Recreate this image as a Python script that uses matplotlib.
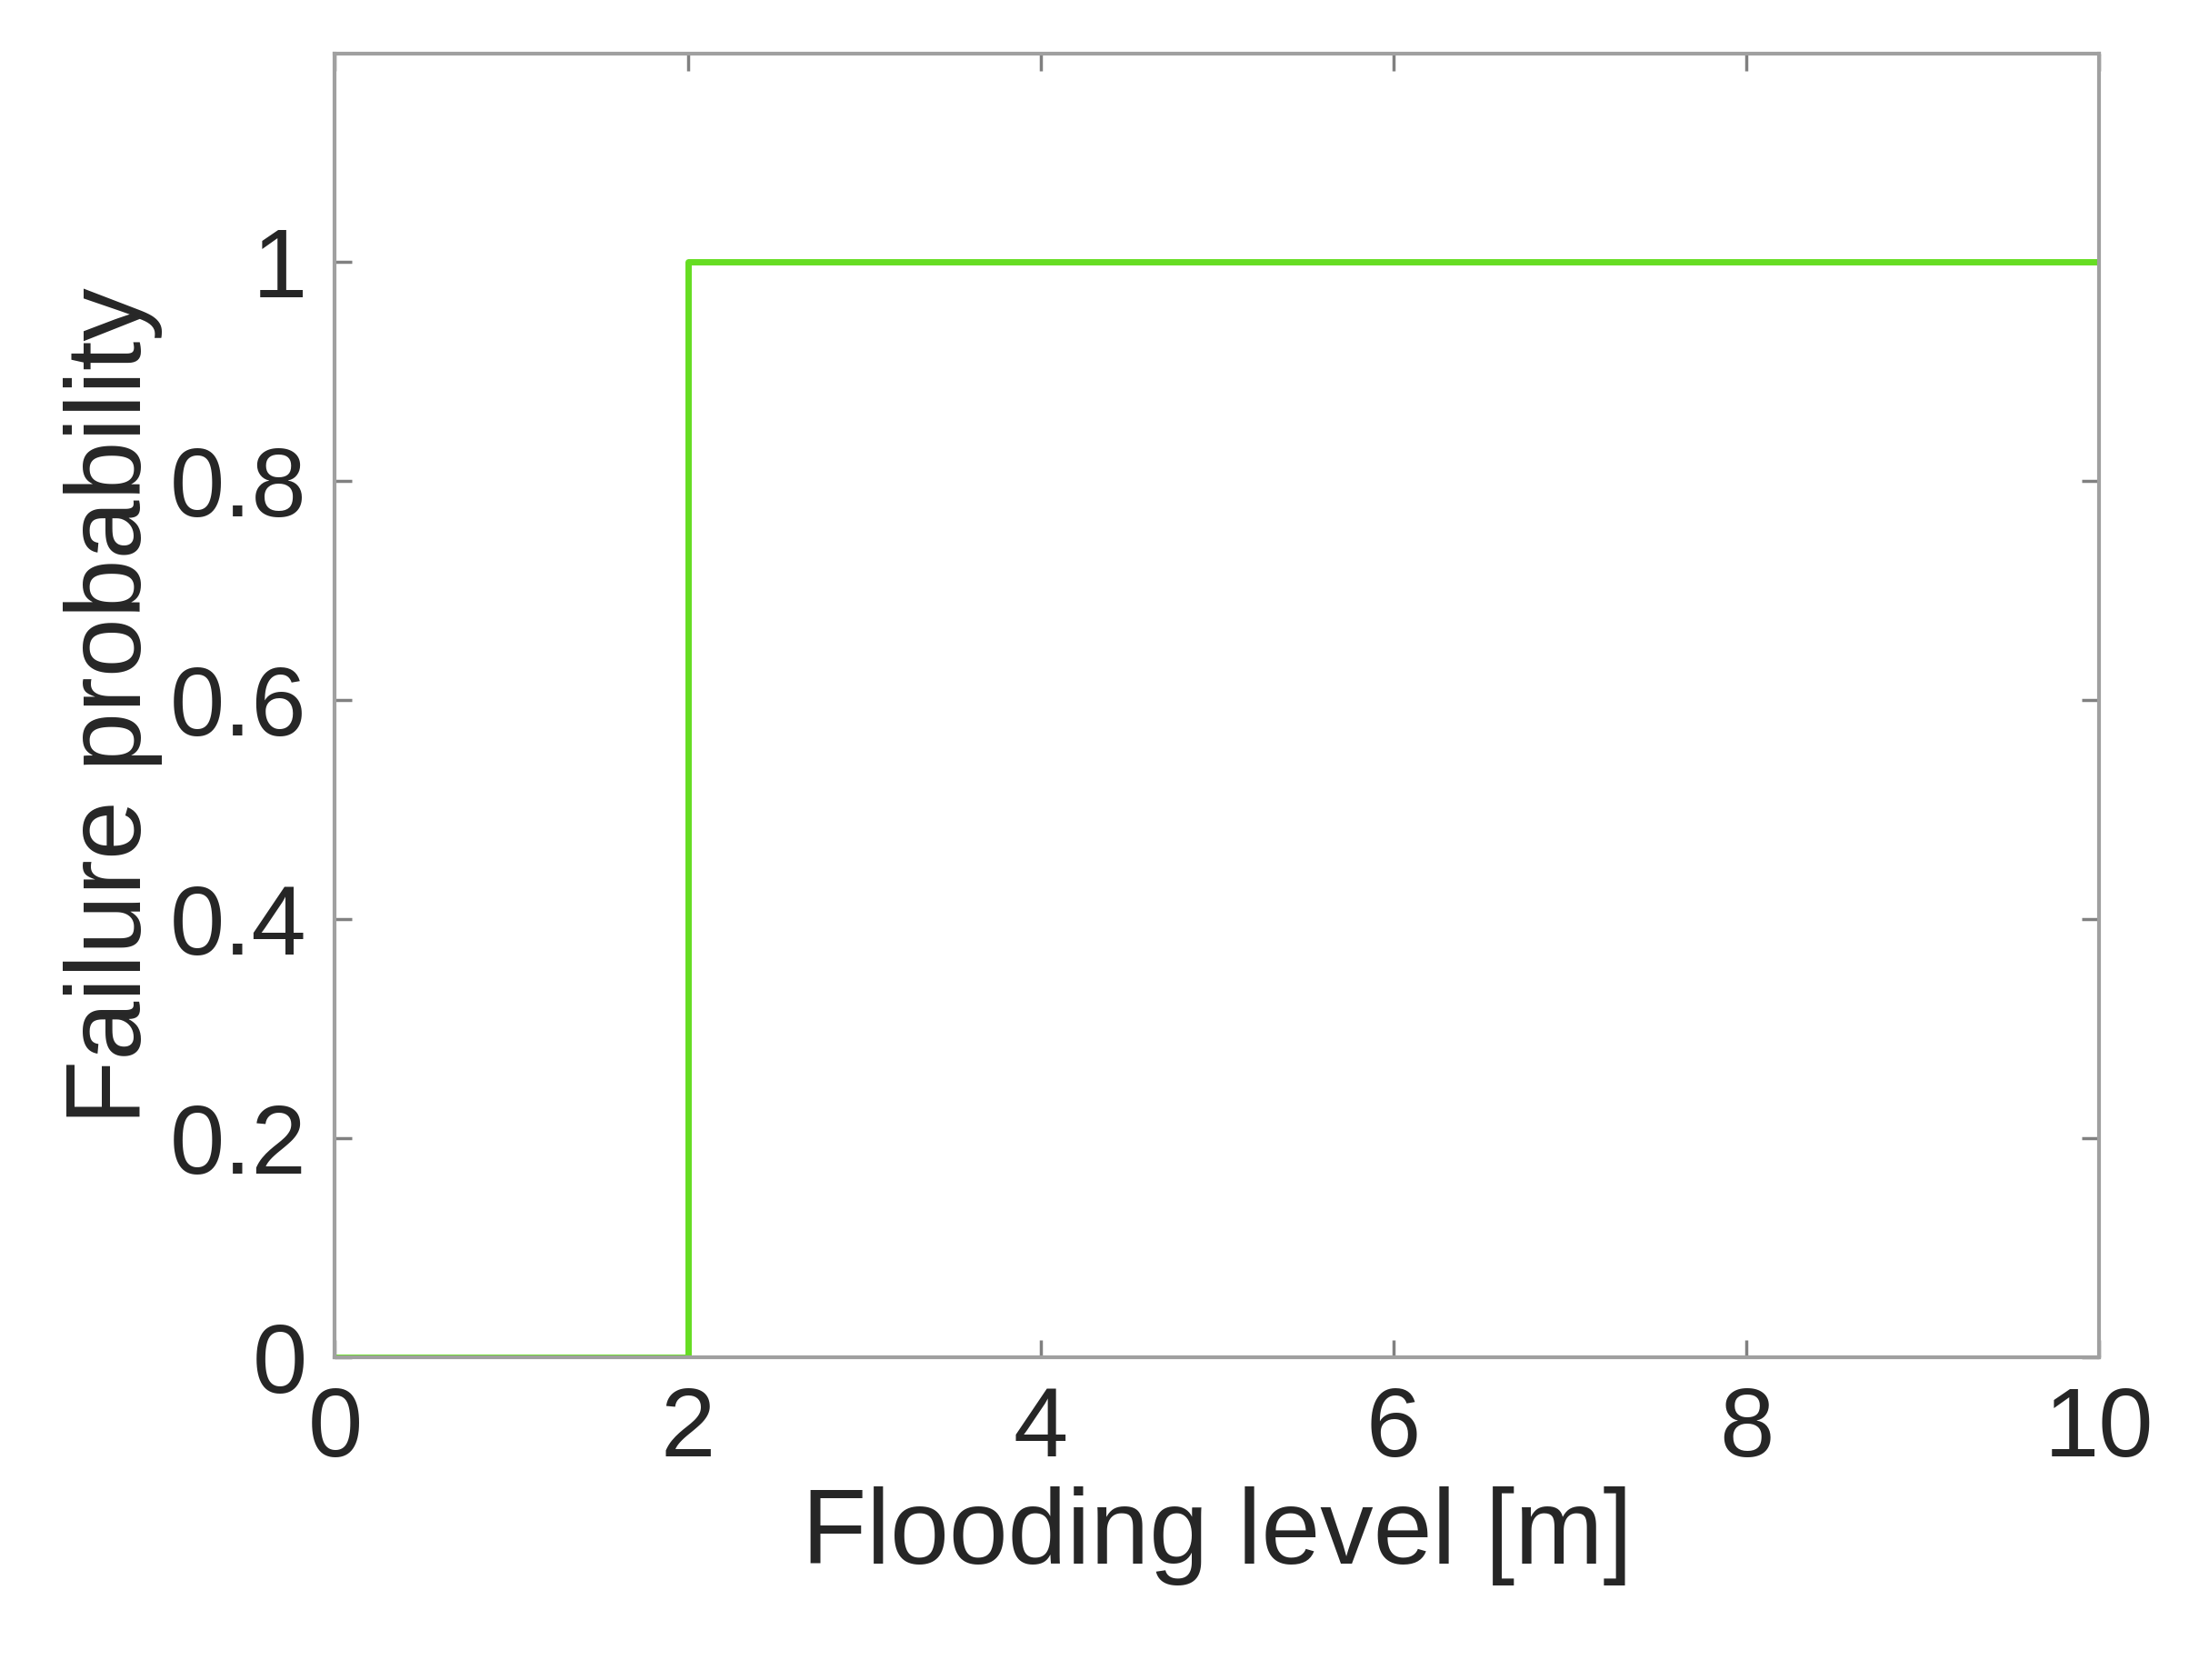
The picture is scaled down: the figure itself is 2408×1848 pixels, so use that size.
import numpy as np
import matplotlib.pyplot as plt

plt.rcParams['font.family'] = ['Liberation Sans', 'DejaVu Sans']

# step curve: failure probability vs flooding level
level = [0, 2, 2, 10]
prob = [0, 0, 1, 1]

fig = plt.figure(figsize=(24.08, 18.48), dpi=100)
ax = fig.add_axes([0.153, 0.192, 0.806, 0.776])
ax.plot(level, prob, color='#66dd22', linewidth=5)

ax.set_xlim(0, 10)
ax.set_ylim(0, 1.19)
ax.set_xticks([0, 2, 4, 6, 8, 10])
ax.set_yticks([0, 0.2, 0.4, 0.6, 0.8, 1])
ax.set_yticklabels(['0', '0.2', '0.4', '0.6', '0.8', '1'])
ax.tick_params(direction='in', top=True, right=True, length=14, width=2.5,
               color='#808080', labelsize=78, labelcolor='#262626', pad=22)
for s in ax.spines.values():
    s.set_color('#a0a0a0')
    s.set_linewidth(3)
ax.set_xlabel('Flooding level [m]', fontsize=84, color='#262626', labelpad=8)
ax.set_ylabel('Failure probability', fontsize=84, color='#262626', labelpad=6)

fig.savefig('out.png', dpi=100)
